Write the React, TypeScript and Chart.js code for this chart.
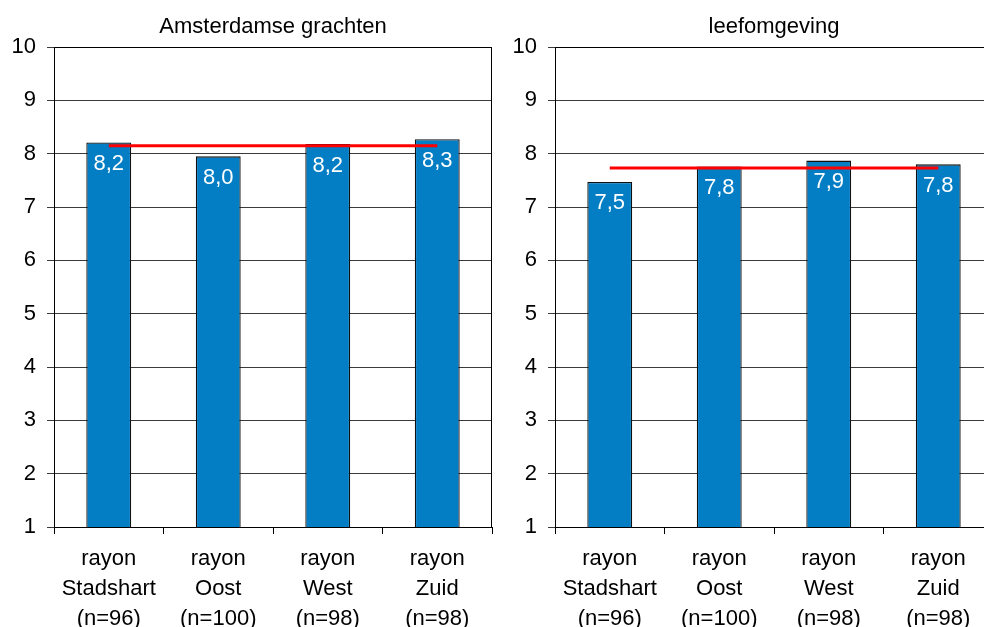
import React, { useEffect, useRef } from "react";
import { Chart, registerables } from "chart.js";

Chart.register(...registerables);

const categories: string[][] = [
  ["rayon", "Stadshart", "(n=96)"],
  ["rayon", "Oost", "(n=100)"],
  ["rayon", "West", "(n=98)"],
  ["rayon", "Zuid", "(n=98)"],
];

const grachtenTitle = "Amsterdamse grachten";
const grachtenValues = [8.21, 7.95, 8.18, 8.27];
const grachtenLabels = ["8,2", "8,0", "8,2", "8,3"];
const grachtenAverage = 8.15;

const leefTitle = "leefomgeving";
const leefValues = [7.47, 7.76, 7.87, 7.8];
const leefLabels = ["7,5", "7,8", "7,9", "7,8"];
const leefAverage = 7.73;

const yMin = 1;
const yMax = 10;

const FONT = "'Liberation Sans', Arial, Helvetica, sans-serif";
const BAR_COLOR = "#037DC4";

function makeConfig(title: string, values: number[], labels: string[], average: number): any {
  const valueLabelPlugin = {
    id: "valueLabels",
    afterDatasetsDraw(chart: any) {
      const meta = chart.getDatasetMeta(1);
      const ctx = chart.ctx;
      ctx.save();
      ctx.font = `22px ${FONT}`;
      ctx.fillStyle = "#ffffff";
      ctx.textAlign = "center";
      ctx.textBaseline = "alphabetic";
      meta.data.forEach((el: any, i: number) => {
        ctx.fillText(labels[i], el.x, el.y + 27.5);
      });
      ctx.restore();
    },
  };
  const framePlugin = {
    id: "frame",
    beforeDatasetsDraw(chart: any) {
      const { ctx, chartArea } = chart;
      ctx.save();
      ctx.strokeStyle = "#000000";
      ctx.lineWidth = 1;
      const l = Math.round(chartArea.left) + 0.5;
      const r = Math.round(chartArea.right) - 0.5;
      const t = Math.round(chartArea.top) + 0.5;
      const b = Math.round(chartArea.bottom) + 0.5;
      ctx.beginPath();
      ctx.moveTo(l, t);
      ctx.lineTo(r, t);
      ctx.lineTo(r, b);
      ctx.stroke();
      ctx.restore();
    },
  };
  return {
    type: "bar",
    data: {
      labels: categories,
      datasets: [
        {
          type: "line",
          data: categories.map(() => average),
          borderColor: "#FF0000",
          borderWidth: 3,
          pointRadius: 0,
          fill: false,
          order: 0,
        },
        {
          type: "bar",
          data: values,
          backgroundColor: BAR_COLOR,
          borderColor: "#111111",
          borderWidth: 1.3,
          borderSkipped: false,
          categoryPercentage: 1,
          barPercentage: 0.41,
          order: 1,
        },
      ],
    },
    options: {
      animation: false,
      responsive: true,
      maintainAspectRatio: false,
      layout: { padding: { left: 0, right: 8, top: 0, bottom: 0 } },
      plugins: {
        legend: { display: false },
        tooltip: { enabled: false },
        title: {
          display: true,
          text: title,
          fullSize: false,
          color: "#000000",
          font: { family: FONT, size: 22, weight: "normal", lineHeight: 1.2 },
          padding: { top: 14, bottom: 6.6 },
        },
      },
      scales: {
        x: {
          grid: {
            display: true,
            drawOnChartArea: false,
            drawTicks: true,
            tickLength: 7,
            color: "#000000",
            offset: true,
          },
          border: { display: true, color: "#000000", width: 1 },
          ticks: {
            color: "#000000",
            padding: 10,
            font: { family: FONT, size: 22, lineHeight: 1.36 },
            maxRotation: 0,
            autoSkip: false,
          },
          afterFit(scale: any) {
            scale.height = 100;
          },
        },
        y: {
          min: yMin,
          max: yMax,
          grid: {
            color: "#3a3a3a",
            tickLength: 7,
            drawTicks: true,
          },
          border: { display: true, color: "#000000", width: 1 },
          ticks: {
            stepSize: 1,
            color: "#000000",
            padding: 11,
            font: { family: FONT, size: 22 },
          },
          afterFit(scale: any) {
            scale.width = 54;
          },
        },
      },
    },
    plugins: [valueLabelPlugin, framePlugin],
  };
}

function ChartPanel(props: { title: string; values: number[]; labels: string[]; average: number }) {
  const ref = useRef<HTMLCanvasElement | null>(null);
  useEffect(() => {
    if (!ref.current) return;
    const chart = new Chart(ref.current, makeConfig(props.title, props.values, props.labels, props.average));
    return () => chart.destroy();
  }, []);
  return <canvas ref={ref} />;
}

export default function App() {
  return (
    <div
      style={{
        position: "fixed",
        left: 0,
        top: 0,
        width: 984,
        height: 627,
        overflow: "hidden",
        background: "#ffffff",
      }}
    >
      <div style={{ position: "absolute", left: 0, top: 0, width: 500, height: 627 }}>
        <ChartPanel title={grachtenTitle} values={grachtenValues} labels={grachtenLabels} average={grachtenAverage} />
      </div>
      <div style={{ position: "absolute", left: 501, top: 0, width: 500, height: 627 }}>
        <ChartPanel title={leefTitle} values={leefValues} labels={leefLabels} average={leefAverage} />
      </div>
    </div>
  );
}
